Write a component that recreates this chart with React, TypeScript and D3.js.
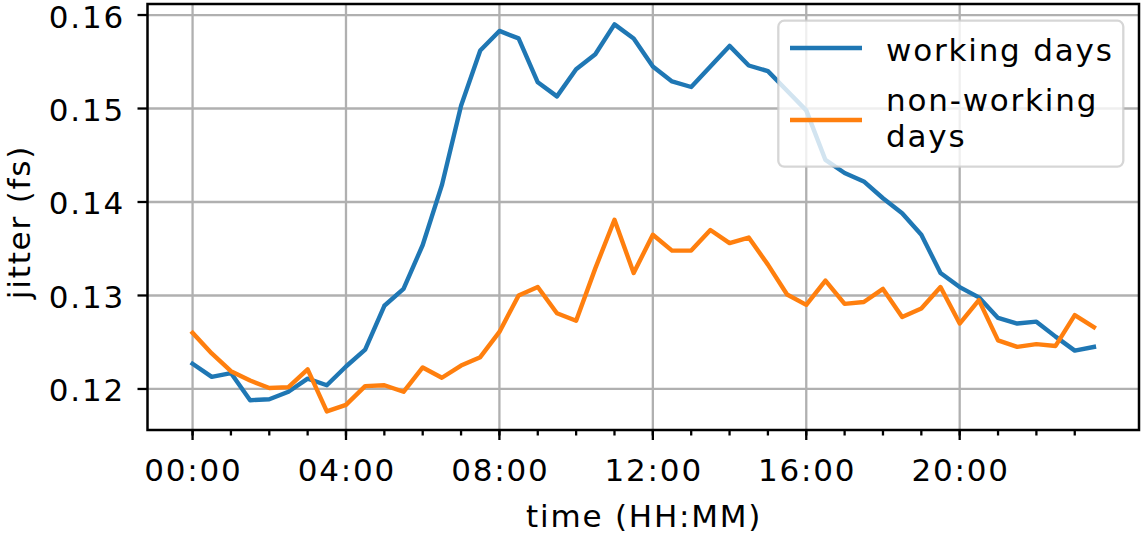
import React from "react";
import * as d3 from "d3";

// half-hourly samples, 00:00 .. 23:30
const times = d3.range(48).map((i) => i * 0.5);

const workingDays = [
  0.1227, 0.1213, 0.1217, 0.1188, 0.1189, 0.1197, 0.1211, 0.1204, 0.1224, 0.1242,
  0.1289, 0.1307, 0.1354, 0.1418, 0.1503, 0.1562, 0.1583, 0.1575, 0.1528, 0.1513,
  0.1542, 0.1558, 0.159, 0.1575, 0.1545, 0.1529, 0.1523, 0.1545, 0.1567, 0.1546,
  0.154, 0.1519, 0.1498, 0.1445, 0.1431, 0.1422, 0.1404, 0.1388, 0.1365, 0.1324,
  0.1309, 0.1298, 0.1276, 0.127, 0.1272, 0.1256, 0.1241, 0.1245,
];

const nonWorkingDays = [
  0.126, 0.1238, 0.1219, 0.1209, 0.1201, 0.1202, 0.1221, 0.1176, 0.1183, 0.1203,
  0.1204, 0.1197, 0.1223, 0.1212, 0.1225, 0.1234, 0.1261, 0.13, 0.1309, 0.1281,
  0.1273, 0.1329, 0.1381, 0.1324, 0.1365, 0.1348, 0.1348, 0.137, 0.1356, 0.1362,
  0.1333, 0.1301, 0.129, 0.1316, 0.1291, 0.1293, 0.1307, 0.1277, 0.1286, 0.1309,
  0.127, 0.1295, 0.1252, 0.1245, 0.1248, 0.1246, 0.1279, 0.1266,
];

const majorHours = [0, 4, 8, 12, 16, 20];
const xTickLabels = ["00:00", "04:00", "08:00", "12:00", "16:00", "20:00"];
const minorHours = d3.range(0, 24);
const yTicks = [0.12, 0.13, 0.14, 0.15, 0.16];

const seriesNames = ["working days", "non-working", "days"];
const colors = ["#1f77b4", "#ff7f0e"];

const W = 1145;
const H = 534;
const plot = { left: 147.5, right: 1139, top: 4, bottom: 430 };

const font = {
  fontFamily: "'DejaVu Sans', sans-serif",
  fontSize: 31,
  letterSpacing: "1.8px",
};

export default function App() {
  const x = d3.scaleLinear().domain([-1.175, 24.675]).range([plot.left, plot.right]);
  const y = d3.scaleLinear().domain([0.11561, 0.16118]).range([plot.bottom, plot.top]);

  const line = d3
    .line<number>()
    .x((_, i) => x(times[i]))
    .y((d) => y(d));

  const fmt = d3.format(".2f");
  const grid = "#b0b0b0";

  return (
    <svg
      width={W}
      height={H}
      style={{ position: "absolute", left: 0, top: 0, background: "white" }}
    >
      {/* grid */}
      <g stroke={grid} strokeWidth={2.3}>
        {majorHours.map((h) => (
          <line key={"gx" + h} x1={x(h)} x2={x(h)} y1={plot.top} y2={plot.bottom} />
        ))}
        {yTicks.map((t) => (
          <line key={"gy" + t} x1={plot.left} x2={plot.right} y1={y(t)} y2={y(t)} />
        ))}
      </g>

      {/* series */}
      {[workingDays, nonWorkingDays].map((s, i) => (
        <path
          key={i}
          d={line(s) ?? ""}
          fill="none"
          stroke={colors[i]}
          strokeWidth={4.4}
          strokeLinejoin="round"
          strokeLinecap="square"
        />
      ))}

      {/* spines */}
      <rect
        x={plot.left}
        y={plot.top}
        width={plot.right - plot.left}
        height={plot.bottom - plot.top}
        fill="none"
        stroke="black"
        strokeWidth={2.5}
      />

      {/* ticks */}
      <g stroke="black" strokeWidth={2.3}>
        {minorHours.map((h) => (
          <line key={"mx" + h} x1={x(h)} x2={x(h)} y1={plot.bottom} y2={plot.bottom + 5.5} />
        ))}
        {majorHours.map((h) => (
          <line key={"tx" + h} x1={x(h)} x2={x(h)} y1={plot.bottom} y2={plot.bottom + 10} />
        ))}
        {yTicks.map((t) => (
          <line key={"ty" + t} x1={plot.left - 10} x2={plot.left} y1={y(t)} y2={y(t)} />
        ))}
      </g>

      <g style={font} fill="black">
        {majorHours.map((h, i) => (
          <text key={"lx" + h} x={x(h) + 0.9} y={481} textAnchor="middle">
            {xTickLabels[i]}
          </text>
        ))}
        {yTicks.map((t) => (
          <text key={"ly" + t} x={125} y={y(t) + 12.5} textAnchor="end">
            {fmt(t)}
          </text>
        ))}
        <text x={(plot.left + plot.right) / 2 + 0.9} y={527} textAnchor="middle">
          time (HH:MM)
        </text>
        <text
          transform={`translate(29.5, ${(plot.top + plot.bottom) / 2 + 5}) rotate(-90)`}
          textAnchor="middle"
        >
          jitter (fs)
        </text>
      </g>

      {/* legend */}
      <g>
        <rect
          x={778.3}
          y={20.7}
          width={345}
          height={146}
          rx={6}
          fill="white"
          fillOpacity={0.8}
          stroke="#cccccc"
          strokeOpacity={0.8}
          strokeWidth={2.3}
        />
        <line x1={790} x2={862} y1={48} y2={48} stroke={colors[0]} strokeWidth={4.4} />
        <line x1={790} x2={862} y1={120} y2={120} stroke={colors[1]} strokeWidth={4.4} />
        <g style={font} fill="black">
          <text x={886} y={61}>{seriesNames[0]}</text>
          <text x={886} y={111}>{seriesNames[1]}</text>
          <text x={886} y={146.5}>{seriesNames[2]}</text>
        </g>
      </g>
    </svg>
  );
}
